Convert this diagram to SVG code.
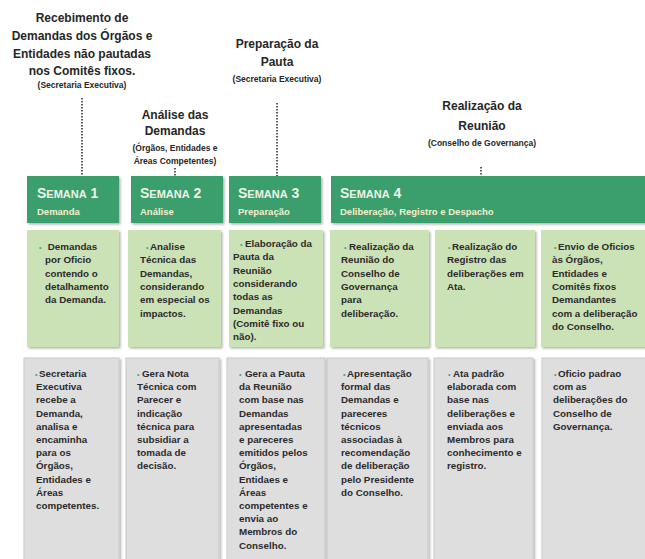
<svg xmlns="http://www.w3.org/2000/svg" width="645" height="559" viewBox="0 0 645 559">
<defs>
<filter id="sh" x="-10%" y="-10%" width="130%" height="130%"><feDropShadow dx="1.5" dy="1.5" stdDeviation="1" flood-color="#000" flood-opacity="0.3"/></filter>
<style>
.lbl{font-family:"Liberation Sans",Arial,sans-serif;font-weight:bold;font-size:12px;fill:#262626;text-anchor:middle}
.sub{font-family:"Liberation Sans",Arial,sans-serif;font-weight:bold;font-size:8.5px;fill:#262626;text-anchor:middle}
.hd{fill:#3b9e6d;filter:url(#sh)}
.gr{fill:#cbe1b6;filter:url(#sh)}
.gy{fill:#dedede;stroke:#c9c9c9;stroke-width:1;filter:url(#sh)}
.ht{font-family:"Liberation Sans",Arial,sans-serif;font-weight:bold;fill:#eef4ea}
.hs{font-family:"Liberation Sans",Arial,sans-serif;font-weight:bold;font-size:9.5px;fill:#f4efcc}
.t{font-family:"Liberation Sans",Arial,sans-serif;font-weight:bold;font-size:9.8px;fill:#2b2b2b}
.b{fill:#3aa98a;font-size:7px}
.dot{stroke:#333;stroke-width:1.6;stroke-dasharray:1.4 1.6;fill:none}
</style>
</defs>
<rect width="645" height="559" fill="#fff"/>

<g id="label1">
<text class="lbl" x="82" y="22">Recebimento de</text>
<text class="lbl" x="82" y="40">Demandas dos Órgãos e</text>
<text class="lbl" x="82" y="58">Entidades não pautadas</text>
<text class="lbl" x="82" y="75">nos Comitês fixos.</text>
<text class="sub" x="82" y="88">(Secretaria Executiva)</text>
</g>
<g id="label2">
<text class="lbl" x="175" y="119">Análise das</text>
<text class="lbl" x="175" y="135">Demandas</text>
<text class="sub" x="175" y="151">(Órgãos, Entidades e</text>
<text class="sub" x="175" y="164">Áreas Competentes)</text>
</g>
<g id="label3">
<text class="lbl" x="277" y="48">Preparação da</text>
<text class="lbl" x="277" y="66">Pauta</text>
<text class="sub" x="277" y="82">(Secretaria Executiva)</text>
</g>
<g id="label4">
<text class="lbl" x="482" y="110">Realização da</text>
<text class="lbl" x="482" y="130">Reunião</text>
<text class="sub" x="482" y="146">(Conselho de Governança)</text>
</g>

<g id="connectors">
<line class="dot" x1="82" y1="98" x2="82" y2="176"/>
<line class="dot" x1="175" y1="168" x2="175" y2="176"/>
<line class="dot" x1="277" y1="103" x2="277" y2="176"/>
<line class="dot" x1="481" y1="167" x2="481" y2="176"/>
</g>

<g id="semana1">
<rect class="hd" x="27" y="176" width="92" height="47"/>
<text class="ht" x="37" y="198"><tspan font-size="14">S</tspan><tspan font-size="11">EMANA</tspan><tspan font-size="14"> 1</tspan></text>
<text class="hs" x="37" y="215">Demanda</text>
</g>
<g id="semana2">
<rect class="hd" x="131" y="176" width="92" height="47"/>
<text class="ht" x="140" y="198"><tspan font-size="14">S</tspan><tspan font-size="11">EMANA</tspan><tspan font-size="14"> 2</tspan></text>
<text class="hs" x="140" y="215">Análise</text>
</g>
<g id="semana3">
<rect class="hd" x="229" y="176" width="92" height="47"/>
<text class="ht" x="238" y="198"><tspan font-size="14">S</tspan><tspan font-size="11">EMANA</tspan><tspan font-size="14"> 3</tspan></text>
<text class="hs" x="238" y="215">Preparação</text>
</g>
<g id="semana4">
<rect class="hd" x="331" y="176" width="318" height="47"/>
<text class="ht" x="340" y="198"><tspan font-size="14">S</tspan><tspan font-size="11">EMANA</tspan><tspan font-size="14"> 4</tspan></text>
<text class="hs" x="340" y="215">Deliberação, Registro e Despacho</text>
</g>

<g id="g1">
<rect class="gr" x="27" y="230" width="92" height="117"/>
<text class="t" y="250"><tspan class="b" x="39">•</tspan><tspan x="45"> Demandas</tspan><tspan x="45" dy="13.3">por Oficio</tspan><tspan x="45" dy="13.3">contendo o</tspan><tspan x="45" dy="13.3">detalhamento</tspan><tspan x="45" dy="13.3">da Demanda.</tspan></text>
</g>
<g id="g2">
<rect class="gr" x="128" y="230" width="93" height="117"/>
<text class="t" y="250"><tspan class="b" x="146">•</tspan><tspan x="150">Analise</tspan><tspan x="140" dy="13.3">Técnica das</tspan><tspan x="140" dy="13.3">Demandas,</tspan><tspan x="140" dy="13.3">considerando</tspan><tspan x="140" dy="13.3">em especial os</tspan><tspan x="140" dy="13.3">impactos.</tspan></text>
</g>
<g id="g3">
<rect class="gr" x="229" y="230" width="94" height="117"/>
<text class="t" y="247"><tspan class="b" x="240">•</tspan><tspan x="245">Elaboração da</tspan><tspan x="233" dy="13.3">Pauta da</tspan><tspan x="233" dy="13.3">Reunião</tspan><tspan x="233" dy="13.3">considerando</tspan><tspan x="233" dy="13.3">todas as</tspan><tspan x="233" dy="13.3">Demandas</tspan><tspan x="233" dy="13.3">(Comitê fixo ou</tspan><tspan x="233" dy="13.3">não).</tspan></text>
</g>
<g id="g4">
<rect class="gr" x="330" y="230" width="99" height="117"/>
<text class="t" y="250"><tspan class="b" x="344">•</tspan><tspan x="349">Realização da</tspan><tspan x="341" dy="13.3">Reunião do</tspan><tspan x="341" dy="13.3">Conselho de</tspan><tspan x="341" dy="13.3">Governança</tspan><tspan x="341" dy="13.3">para</tspan><tspan x="341" dy="13.3">deliberação.</tspan></text>
</g>
<g id="g5">
<rect class="gr" x="435" y="230" width="100" height="117"/>
<text class="t" y="250"><tspan class="b" x="448">•</tspan><tspan x="452">Realização do</tspan><tspan x="447" dy="13.3">Registro das</tspan><tspan x="447" dy="13.3">deliberações em</tspan><tspan x="447" dy="13.3">Ata.</tspan></text>
</g>
<g id="g6">
<rect class="gr" x="541" y="230" width="108" height="117"/>
<text class="t" y="250"><tspan class="b" x="554">•</tspan><tspan x="558">Envio de Oficios</tspan><tspan x="552" dy="13.3">às Órgãos,</tspan><tspan x="552" dy="13.3">Entidades e</tspan><tspan x="552" dy="13.3">Comitês fixos</tspan><tspan x="552" dy="13.3">Demandantes</tspan><tspan x="552" dy="13.3">com a deliberação</tspan><tspan x="552" dy="13.3">do Conselho.</tspan></text>
</g>

<g id="c1">
<rect class="gy" x="24" y="358" width="95" height="205"/>
<text class="t" y="377"><tspan class="b" x="35">•</tspan><tspan x="39">Secretaria</tspan><tspan x="36" dy="13.2">Executiva</tspan><tspan x="36" dy="13.2">recebe a</tspan><tspan x="36" dy="13.2">Demanda,</tspan><tspan x="36" dy="13.2">analisa e</tspan><tspan x="36" dy="13.2">encaminha</tspan><tspan x="36" dy="13.2">para os</tspan><tspan x="36" dy="13.2">Órgãos,</tspan><tspan x="36" dy="13.2">Entidades e</tspan><tspan x="36" dy="13.2">Áreas</tspan><tspan x="36" dy="13.2">competentes.</tspan></text>
</g>
<g id="c2">
<rect class="gy" x="126" y="358" width="93" height="205"/>
<text class="t" y="377"><tspan class="b" x="137">•</tspan><tspan x="142">Gera Nota</tspan><tspan x="137" dy="13.2">Técnica com</tspan><tspan x="137" dy="13.2">Parecer e</tspan><tspan x="137" dy="13.2">indicação</tspan><tspan x="137" dy="13.2">técnica para</tspan><tspan x="137" dy="13.2">subsidiar a</tspan><tspan x="137" dy="13.2">tomada de</tspan><tspan x="137" dy="13.2">decisão.</tspan></text>
</g>
<g id="c3">
<rect class="gy" x="227" y="358" width="98" height="205"/>
<text class="t" y="377"><tspan class="b" x="239">•</tspan><tspan x="245">Gera a Pauta</tspan><tspan x="239" dy="13.2">da Reunião</tspan><tspan x="239" dy="13.2">com base nas</tspan><tspan x="239" dy="13.2">Demandas</tspan><tspan x="239" dy="13.2">apresentadas</tspan><tspan x="239" dy="13.2">e pareceres</tspan><tspan x="239" dy="13.2">emitidos pelos</tspan><tspan x="239" dy="13.2">Órgãos,</tspan><tspan x="239" dy="13.2">Entidaes e</tspan><tspan x="239" dy="13.2">Áreas</tspan><tspan x="239" dy="13.2">competentes e</tspan><tspan x="239" dy="13.2">envia ao</tspan><tspan x="239" dy="13.2">Membros do</tspan><tspan x="239" dy="13.2">Conselho.</tspan></text>
</g>
<g id="c4">
<rect class="gy" x="327" y="358" width="101" height="205"/>
<text class="t" y="377"><tspan class="b" x="343">•</tspan><tspan x="347">Apresentação</tspan><tspan x="341" dy="13.2">formal das</tspan><tspan x="341" dy="13.2">Demandas e</tspan><tspan x="341" dy="13.2">pareceres</tspan><tspan x="341" dy="13.2">técnicos</tspan><tspan x="341" dy="13.2">associadas à</tspan><tspan x="341" dy="13.2">recomendação</tspan><tspan x="341" dy="13.2">de deliberação</tspan><tspan x="341" dy="13.2">pelo Presidente</tspan><tspan x="341" dy="13.2">do Conselho.</tspan></text>
</g>
<g id="c5">
<rect class="gy" x="434" y="358" width="99" height="205"/>
<text class="t" y="377"><tspan class="b" x="448">•</tspan><tspan x="453">Ata padrão</tspan><tspan x="447" dy="13.2">elaborada com</tspan><tspan x="447" dy="13.2">base nas</tspan><tspan x="447" dy="13.2">deliberações e</tspan><tspan x="447" dy="13.2">enviada aos</tspan><tspan x="447" dy="13.2">Membros para</tspan><tspan x="447" dy="13.2">conhecimento e</tspan><tspan x="447" dy="13.2">registro.</tspan></text>
</g>
<g id="c6">
<rect class="gy" x="542" y="358" width="108" height="205"/>
<text class="t" y="377"><tspan class="b" x="554">•</tspan><tspan x="558">Oficio padrao</tspan><tspan x="553" dy="13.2">com as</tspan><tspan x="553" dy="13.2">deliberações do</tspan><tspan x="553" dy="13.2">Conselho de</tspan><tspan x="553" dy="13.2">Governança.</tspan></text>
</g>
</svg>
